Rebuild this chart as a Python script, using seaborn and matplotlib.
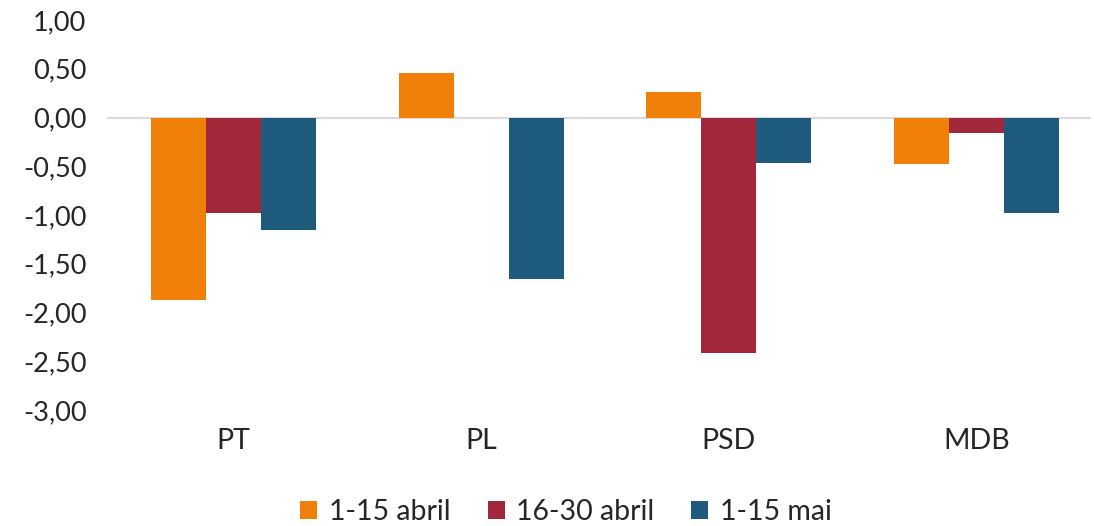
import matplotlib
matplotlib.use("Agg")
import matplotlib.pyplot as plt
import seaborn as sns
import pandas as pd
from matplotlib.ticker import FuncFormatter

categories = ["PT", "PL", "PSD", "MDB"]
series = ["1-15 abril", "16-30 abril", "1-15 mai"]
v_1_15_abril = [-1.87, 0.46, 0.26, -0.48]
v_16_30_abril = [-0.98, 0.0, -2.42, -0.16]
v_1_15_mai = [-1.15, -1.66, -0.47, -0.98]
colors = ["#F0800A", "#A0283A", "#1E5A7C"]

rows = []
for s, vals in zip(series, [v_1_15_abril, v_16_30_abril, v_1_15_mai]):
    for c, v in zip(categories, vals):
        rows.append({"cat": c, "serie": s, "val": v})
df = pd.DataFrame(rows)

sns.set_theme(style="white")
plt.rcParams['font.family'] = ['Lato', 'DejaVu Sans']

fig = plt.figure(figsize=(10.94, 5.26), dpi=100)
L, R = 110, 1100
ax = fig.add_axes([L/1094, 1-410/526, (R-L)/1094, 390/526])
sns.barplot(data=df, x="cat", y="val", hue="serie", order=categories,
            hue_order=series, palette=colors, width=0.667, ax=ax,
            saturation=1, linewidth=0, errorbar=None, legend=True)
ax.set_xlim(-0.5, 3.5)
ax.set_ylim(-3, 1)
ax.set_yticks([1, 0.5, 0, -0.5, -1, -1.5, -2, -2.5, -3])
ax.yaxis.set_major_formatter(FuncFormatter(lambda v, p: f"{v:.2f}".replace(".", ",")))
ax.axhline(0, xmin=-2/(R-L), xmax=(1090-L)/(R-L), color="#D9D9D9", lw=1.5, zorder=0, clip_on=False)
for sp in ax.spines.values():
    sp.set_visible(False)
ax.set_xlabel("")
ax.set_ylabel("")
ax.tick_params(axis="y", labelsize=19.5, pad=17, length=0)
ax.tick_params(axis="x", labelsize=20.5, pad=13, length=0)
for lab in ax.get_yticklabels() + ax.get_xticklabels():
    lab.set_color("#262626")
ax.legend_.remove()
handles, labels = ax.get_legend_handles_labels()
fig.legend(handles, labels, loc="center", bbox_to_anchor=(566/1094, 1-512/526),
           ncol=3, frameon=False, fontsize=20.5, handlelength=0.6, handleheight=0.6,
           handletextpad=0.4, columnspacing=1.3, labelcolor="#262626")
fig.savefig("out.png", dpi=100)
